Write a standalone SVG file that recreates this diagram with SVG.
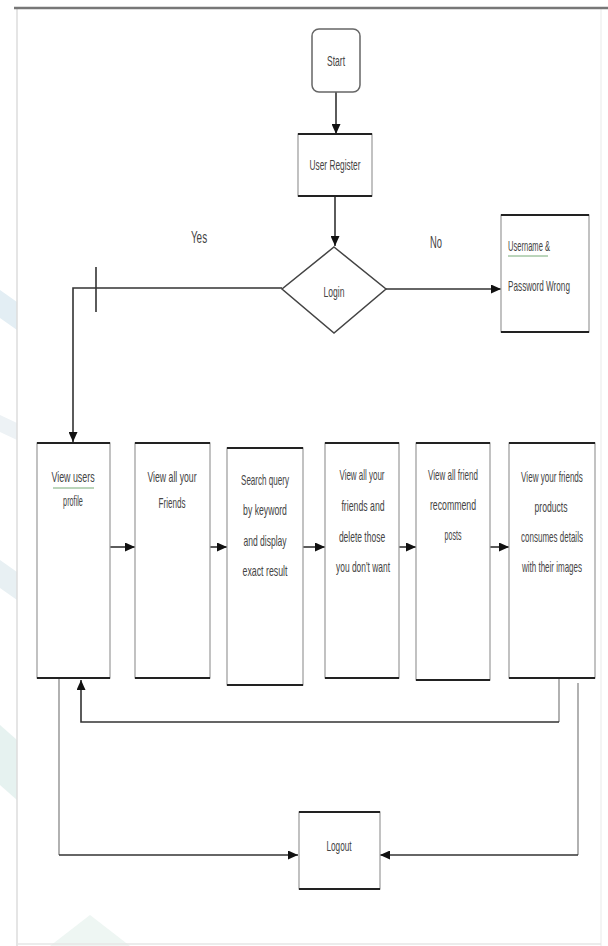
<svg xmlns="http://www.w3.org/2000/svg" width="608" height="946" viewBox="0 0 608 946">
<style>
.t{font-family:"Liberation Sans",Arial,sans-serif;font-size:14px;fill:#444;text-anchor:middle}
.lbl{font-family:"Liberation Sans",Arial,sans-serif;font-size:17px;fill:#444;text-anchor:middle}
.box{fill:#fff;stroke:#999;stroke-width:1.2}
.edge{stroke:#222;stroke-width:2}
.con{fill:none;stroke:#333;stroke-width:1.6}
.gv{fill:none;stroke:#888;stroke-width:1.3}
.sq{stroke:#7a7;stroke-width:1}
</style>
<defs>
<marker id="ah" markerUnits="userSpaceOnUse" markerWidth="10" markerHeight="9" refX="10" refY="4.5" orient="auto">
<path d="M0,0 L10,4.5 L0,9 z" fill="#111"/>
</marker>
</defs>
<rect width="608" height="946" fill="#fff"/>
<g id="frame">
<path d="M0,290 L17,302 L17,330 L0,318 z" fill="#e3eef4"/>
<path d="M0,415 L17,423 L17,440 L0,432 z" fill="#edf2f5"/>
<path d="M0,560 L17,572 L17,600 L0,588 z" fill="#e8f0f3"/>
<path d="M0,725 L17,740 L17,800 L0,785 z" fill="#e6f2f0"/>
<path d="M50,946 L90,915 L130,946 z" fill="#eef6f3"/>
<line x1="17" y1="8" x2="17" y2="946" stroke="#ddd" stroke-width="1.5"/>
<line x1="601" y1="8" x2="601" y2="946" stroke="#f0f0f0" stroke-width="1.5"/>
<line x1="17" y1="944" x2="601" y2="944" stroke="#e6e6e6" stroke-width="1.5"/>
<line x1="14" y1="8" x2="608" y2="8" stroke="#777" stroke-width="2.5"/>
</g>
<g id="connectors">
<line class="con" x1="336" y1="92" x2="336" y2="134" marker-end="url(#ah)"/>
<line class="con" x1="335" y1="196" x2="335" y2="246" marker-end="url(#ah)"/>
<line class="con" x1="386" y1="289" x2="501" y2="289" marker-end="url(#ah)"/>
<path class="con" d="M282,288 H73 V442" marker-end="url(#ah)"/>
<line class="con" x1="96" y1="267" x2="96" y2="312"/>
<line class="con" x1="110" y1="547" x2="135" y2="547" marker-end="url(#ah)"/>
<line class="con" x1="210" y1="547" x2="227" y2="547" marker-end="url(#ah)"/>
<line class="con" x1="303" y1="547" x2="325" y2="547" marker-end="url(#ah)"/>
<line class="con" x1="399" y1="547" x2="416" y2="547" marker-end="url(#ah)"/>
<line class="con" x1="490" y1="547" x2="509" y2="547" marker-end="url(#ah)"/>
<path class="gv" d="M559,679 V722"/>
<path class="con" d="M559,722 H81 V680" marker-end="url(#ah)"/>
<path class="gv" d="M59,679 V855"/>
<path class="con" d="M59,855 H298" marker-end="url(#ah)"/>
<path class="gv" d="M578,683 V855"/>
<path class="con" d="M578,855 H380" marker-end="url(#ah)"/>
</g>
<g id="start">
<rect x="312" y="29" width="48" height="63" rx="7" fill="#fff" stroke="#666" stroke-width="1.5"/>
<text class="t" transform="translate(336,66) scale(0.6,1)" textLength="30" lengthAdjust="spacingAndGlyphs">Start</text>
</g>
<g id="user-register">
<rect class="box" x="298" y="134" width="74" height="62"/>
<line class="edge" x1="298" y1="134" x2="372" y2="134"/>
<line class="edge" x1="298" y1="196" x2="372" y2="196"/>
<text class="t" transform="translate(335,170) scale(0.6,1)" textLength="85" lengthAdjust="spacingAndGlyphs">User Register</text>
</g>
<g id="login">
<polygon points="334,247 386,289 334,333 282,289" fill="#fff" stroke="#444" stroke-width="1.5"/>
<text class="t" transform="translate(334,297) scale(0.6,1)" textLength="35" lengthAdjust="spacingAndGlyphs">Login</text>
</g>
<g id="labels">
<text class="lbl" transform="translate(199,243) scale(0.6,1)" textLength="27" lengthAdjust="spacingAndGlyphs">Yes</text>
<text class="lbl" transform="translate(436,248) scale(0.6,1)" textLength="20" lengthAdjust="spacingAndGlyphs">No</text>
</g>
<g id="wrong">
<rect class="box" x="501" y="215" width="88" height="117"/>
<line class="edge" x1="501" y1="215" x2="589" y2="215"/>
<line class="edge" x1="501" y1="332" x2="589" y2="332"/>
<text class="t" transform="translate(529,251) scale(0.6,1)" textLength="70" lengthAdjust="spacingAndGlyphs">Username &amp;</text>
<line class="sq" x1="508" y1="256" x2="548" y2="256"/>
<text class="t" transform="translate(539,291) scale(0.6,1)" textLength="103" lengthAdjust="spacingAndGlyphs">Password Wrong</text>
</g>
<g id="view-profile">
<rect class="box" x="37" y="443" width="73" height="235"/>
<line class="edge" x1="37" y1="443" x2="110" y2="443"/>
<line class="edge" x1="37" y1="678" x2="110" y2="678"/>
<text class="t" transform="translate(73,482) scale(0.6,1)" textLength="72" lengthAdjust="spacingAndGlyphs">View users</text>
<line class="sq" x1="53" y1="488" x2="94" y2="488"/>
<text class="t" transform="translate(73,506) scale(0.6,1)" textLength="33" lengthAdjust="spacingAndGlyphs">profile</text>
</g>
<g id="view-friends">
<rect class="box" x="135" y="443" width="75" height="235"/>
<line class="edge" x1="135" y1="443" x2="210" y2="443"/>
<line class="edge" x1="135" y1="678" x2="210" y2="678"/>
<text class="t" transform="translate(172,482) scale(0.6,1)" textLength="82" lengthAdjust="spacingAndGlyphs">View all your</text>
<text class="t" transform="translate(172,508) scale(0.6,1)" textLength="45" lengthAdjust="spacingAndGlyphs">Friends</text>
</g>
<g id="search">
<rect class="box" x="227" y="448" width="76" height="237"/>
<line class="edge" x1="227" y1="448" x2="303" y2="448"/>
<line class="edge" x1="227" y1="685" x2="303" y2="685"/>
<text class="t" transform="translate(265,485) scale(0.6,1)" textLength="80" lengthAdjust="spacingAndGlyphs">Search query</text>
<text class="t" transform="translate(265,515) scale(0.6,1)" textLength="73" lengthAdjust="spacingAndGlyphs">by keyword</text>
<text class="t" transform="translate(265,546) scale(0.6,1)" textLength="72" lengthAdjust="spacingAndGlyphs">and display</text>
<text class="t" transform="translate(265,576) scale(0.6,1)" textLength="75" lengthAdjust="spacingAndGlyphs">exact result</text>
</g>
<g id="delete-friends">
<rect class="box" x="325" y="443" width="74" height="235"/>
<line class="edge" x1="325" y1="443" x2="399" y2="443"/>
<line class="edge" x1="325" y1="678" x2="399" y2="678"/>
<text class="t" transform="translate(362,480) scale(0.6,1)" textLength="75" lengthAdjust="spacingAndGlyphs">View all your</text>
<text class="t" transform="translate(363,511) scale(0.6,1)" textLength="72" lengthAdjust="spacingAndGlyphs">friends and</text>
<text class="t" transform="translate(362,542) scale(0.6,1)" textLength="77" lengthAdjust="spacingAndGlyphs">delete those</text>
<text class="t" transform="translate(363,572) scale(0.6,1)" textLength="90" lengthAdjust="spacingAndGlyphs">you don't want</text>
</g>
<g id="recommend">
<rect class="box" x="416" y="443" width="74" height="237"/>
<line class="edge" x1="416" y1="443" x2="490" y2="443"/>
<line class="edge" x1="416" y1="680" x2="490" y2="680"/>
<text class="t" transform="translate(453,480) scale(0.6,1)" textLength="83" lengthAdjust="spacingAndGlyphs">View all friend</text>
<text class="t" transform="translate(453,510) scale(0.6,1)" textLength="77" lengthAdjust="spacingAndGlyphs">recommend</text>
<text class="t" transform="translate(453,540) scale(0.6,1)" textLength="28" lengthAdjust="spacingAndGlyphs">posts</text>
</g>
<g id="products">
<rect class="box" x="509" y="443" width="86" height="235"/>
<line class="edge" x1="509" y1="443" x2="595" y2="443"/>
<line class="edge" x1="509" y1="678" x2="595" y2="678"/>
<text class="t" transform="translate(552,482) scale(0.6,1)" textLength="103" lengthAdjust="spacingAndGlyphs">View your friends</text>
<text class="t" transform="translate(551,512) scale(0.6,1)" textLength="55" lengthAdjust="spacingAndGlyphs">products</text>
<text class="t" transform="translate(552,542) scale(0.6,1)" textLength="103" lengthAdjust="spacingAndGlyphs">consumes details</text>
<text class="t" transform="translate(552,572) scale(0.6,1)" textLength="100" lengthAdjust="spacingAndGlyphs">with their images</text>
</g>
<g id="logout">
<rect class="box" x="299" y="812" width="81" height="77"/>
<line class="edge" x1="299" y1="812" x2="380" y2="812"/>
<line class="edge" x1="299" y1="889" x2="380" y2="889"/>
<text class="t" transform="translate(339,851) scale(0.6,1)" textLength="42" lengthAdjust="spacingAndGlyphs">Logout</text>
</g>
</svg>
